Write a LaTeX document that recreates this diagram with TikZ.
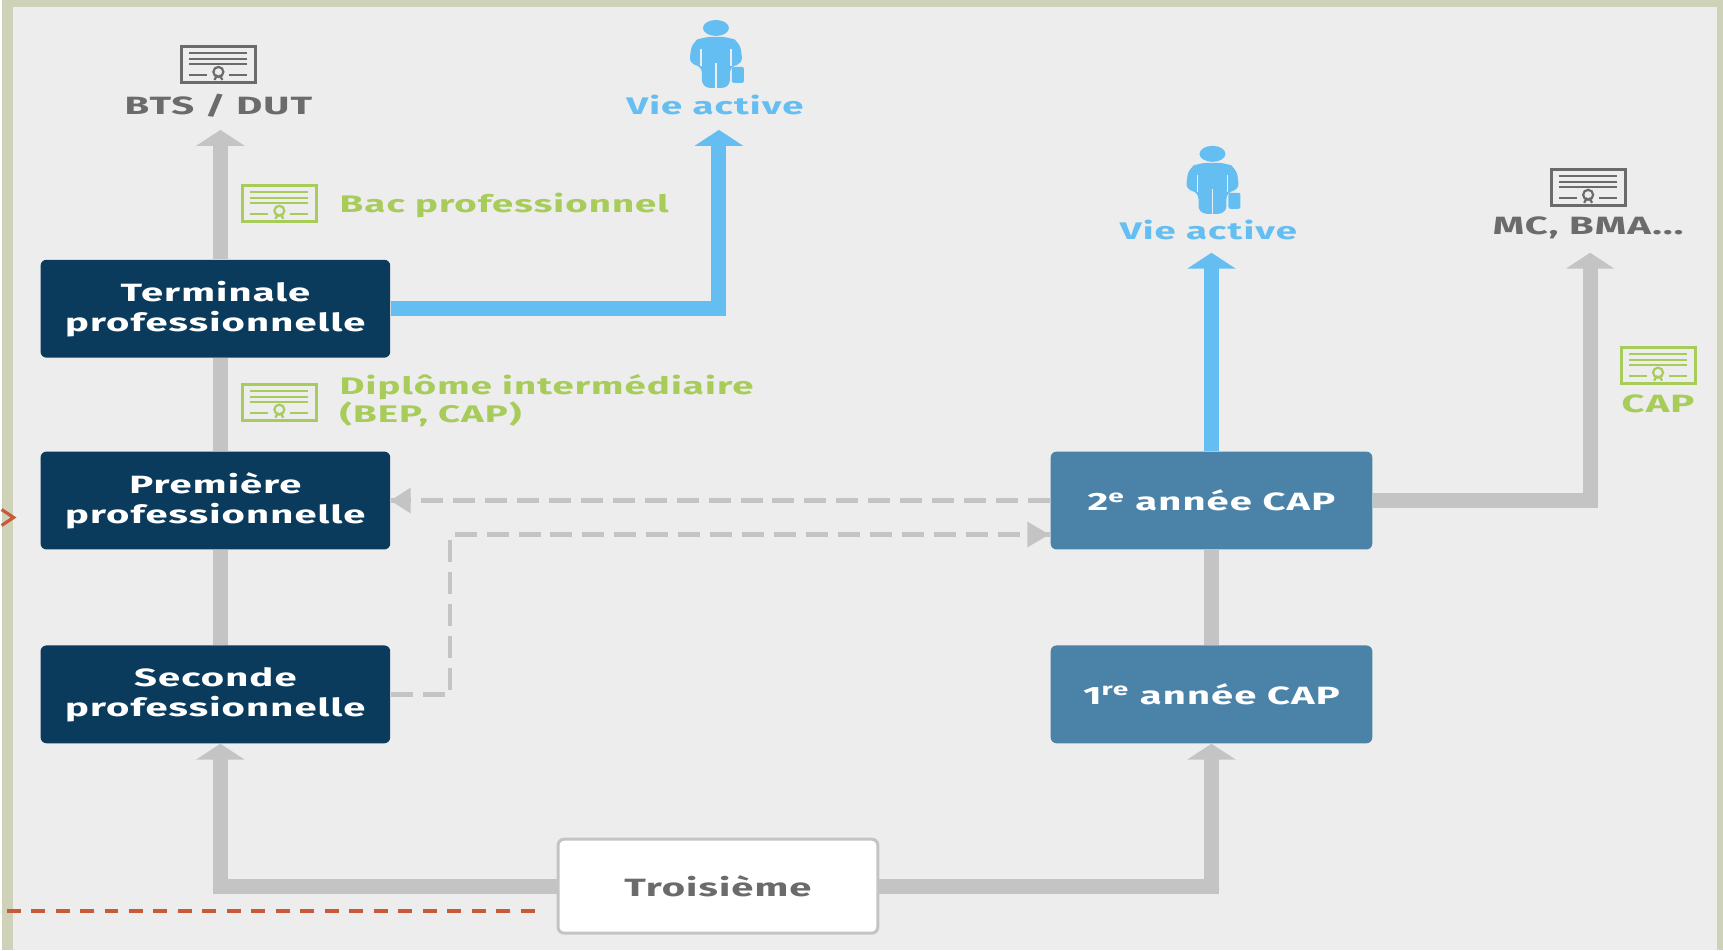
\documentclass[tikz,border=0pt]{standalone}
\usepackage{fontspec}
\setmainfont[FakeStretch=1.6, LetterSpace=4.5]{Fira Sans}
\usetikzlibrary{arrows.meta}
\definecolor{fond}{HTML}{CDD2B9}
\definecolor{panneau}{HTML}{EDEDED}
\definecolor{marine}{HTML}{0A3A5C}
\definecolor{acier}{HTML}{4A82A8}
\definecolor{ciel}{HTML}{65BEF2}
\definecolor{gris}{HTML}{C4C4C4}
\definecolor{ardoise}{HTML}{6B6B6B}
\definecolor{vert}{HTML}{A8CC5A}
\definecolor{brique}{HTML}{C8593B}
\tikzset{
    classe/.style={minimum width=175pt, minimum height=49pt, rounded corners=3pt, inner sep=0pt, align=center, text=white, font=\fontsize{12.5}{15}\selectfont\bfseries},
    pro/.style={classe, fill=marine},
    annee/.style={classe, fill=acier, minimum width=161pt},
    legende/.style={inner sep=0pt, font=\fontsize{12.5}{14}\selectfont\bfseries},
    mention/.style={legende, font=\fontsize{12}{14}\selectfont\bfseries},
    voie/.style={line width=7.5pt, draw=gris},
    fleche/.style={voie, -{Triangle[length=8pt, width=24pt]}},
    passerelle/.style={line width=2.3pt, draw=gris, dash pattern=on 11pt off 5pt},
    diploma/.pic={
        \draw[line width=1.5pt] (-37,-18) rectangle (37,18);
        \draw[line width=1.1pt] (-29,-12) -- (29,-12);
        \draw[line width=1.1pt] (-29,-6) -- (29,-6);
        \draw[line width=1.1pt] (-29,-1) -- (29,-1);
        \draw[line width=1.1pt] (-29,10) -- (-11,10);
        \draw[line width=1.1pt] (11,10) -- (29,10);
        \draw[line width=1.1pt] (0,7) circle (2.5pt);
        \draw[line width=1.1pt] (-4,15) -- (-1,10);
        \draw[line width=1.1pt] (4,15) -- (1,10);
    },
    actif/.pic={
        \fill (0,-27) ellipse (13 and 8);
        \fill[rounded corners=4pt] (-13,-18) -- (13,-18) -- (24,-13) -- (27,10) -- (14,10) -- (14,33) -- (-14,33) -- (-14,10) -- (-27,10) -- (-24,-13) -- cycle;
        \draw[panneau, line width=0.7pt] (0,8) -- (0,34);
        \draw[panneau, line width=0.7pt] (-15,-6) -- (-15,11);
        \draw[panneau, line width=0.7pt] (15,-6) -- (15,11);
        \fill[rounded corners=1pt] (16,12) rectangle (28,28);
    }
}
\begin{document}
\begin{tikzpicture}[x=0.5pt, y=-0.5pt]
    \fill[fond] (0,0) rectangle (1723,951);
    \fill[panneau] (11,7) rectangle (1717,951);
    % classes
    \node[pro] (terminale) at (214,309) {Terminale\\professionnelle};
    \node[pro] (premiere) at (214,501) {Première\\professionnelle};
    \node[pro] (seconde) at (214,695) {Seconde\\professionnelle};
    \node[annee] (capdeux) at (1211,501) {2\textsuperscript{e} année CAP};
    \node[annee] (capun) at (1211,695) {1\textsuperscript{re} année CAP};
    \node[classe, fill=white, draw=gris, line width=1.5pt, text=ardoise, minimum width=160pt, minimum height=47pt] (troisieme) at (717,887) {Troisième};
    % sorties
    \coordinate (bts) at (219,130);
    \coordinate (vie) at (718,130);
    \coordinate (viecap) at (1211,253);
    \coordinate (mc) at (1590,253);
    \coordinate (coude) at (449,535);
    \node[legende, text=ardoise] (btstxt) at (217,106) {BTS / DUT};
    \node[mention, text=ciel] (vietxt) at (714,105) {Vie active};
    \node[mention, text=ciel] (viecaptxt) at (1208,230) {Vie active};
    \node[legende, text=ardoise] (mctxt) at (1588,228) {MC, BMA...};
    \node[legende, text=vert] (captxt) at (1658,404) {CAP};
    \node[mention, text=vert, anchor=west] (bactxt) at (338,206) {Bac professionnel};
    \node[mention, text=vert, anchor=west, align=left] (bep) at (338,401) {Diplôme intermédiaire\\(BEP, CAP)};
    \pic[color=ardoise] at (217,65) {diploma};
    \pic[color=vert] at (278,204) {diploma};
    \pic[color=vert] at (278,403) {diploma};
    \pic[color=ardoise] at (1588,188) {diploma};
    \pic[color=vert] at (1658,366) {diploma};
    \pic[color=ciel] at (715,55) {actif};
    \pic[color=ciel] at (1212,181) {actif};
    % voies
    \draw[fleche] (terminale.north -| bts) -- (bts);
    \draw[voie] (premiere.north -| bts) -- (terminale.south -| bts);
    \draw[voie] (seconde.north -| bts) -- (premiere.south -| bts);
    \draw[fleche] (troisieme.west) -| (seconde.south -| bts);
    \draw[fleche] (troisieme.east) -| (capun.south);
    \draw[voie] (capun.north) -- (capdeux.south);
    \draw[fleche] (capdeux.east) -| (mc);
    \draw[fleche, draw=ciel] (capdeux.north) -- (viecap);
    \draw[fleche, draw=ciel] (terminale.east) -| (vie);
    % passerelles
    \draw[passerelle] (capdeux.west) -- (premiere.east);
    \fill[gris] (premiere.east) -- ++(20,-13) -- ++(0,26) -- cycle;
    \draw[passerelle] (seconde.east) -| (coude) -- (coude -| capdeux.west);
    \fill[gris] (coude -| capdeux.west) ++(-1,0) -- ++(-22,-13) -- ++(0,26) -- cycle;
    % repere
    \draw[brique, line width=2pt, dash pattern=on 7pt off 5.25pt] (5,912) -- (534,912);
    \draw[brique, line width=1.6pt] (0,510) -- (12,518) -- (0,526);
\end{tikzpicture}
\end{document}
